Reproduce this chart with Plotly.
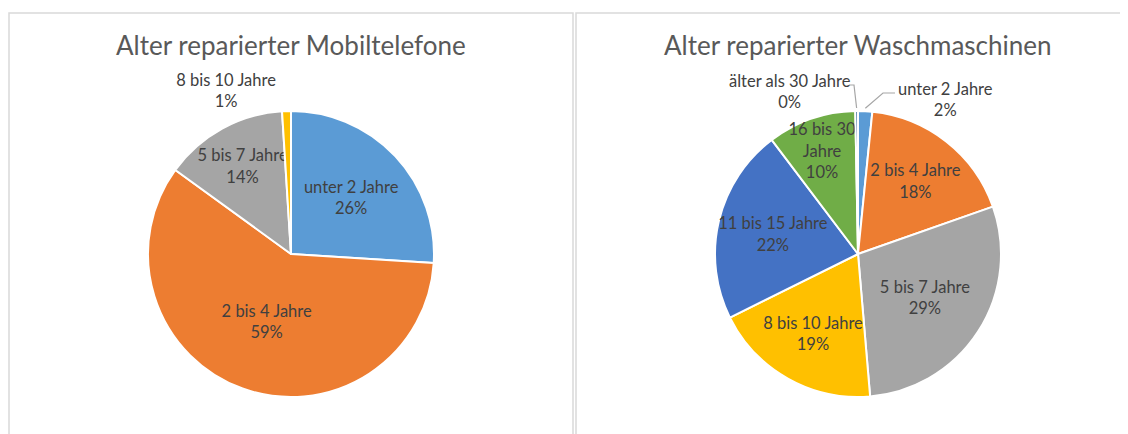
import math
import plotly.graph_objects as go

# Alter reparierter Mobiltelefone
phone_labels = ["unter 2 Jahre", "2 bis 4 Jahre", "5 bis 7 Jahre", "8 bis 10 Jahre"]
phone_values = [26, 59, 14, 1]
phone_text = ["unter 2 Jahre<br>26%", "2 bis 4 Jahre<br>59%", "5 bis 7 Jahre<br>14%", "8 bis 10 Jahre<br>1%"]

# Alter reparierter Waschmaschinen
wash_labels = ["unter 2 Jahre", "2 bis 4 Jahre", "5 bis 7 Jahre", "8 bis 10 Jahre",
               "11 bis 15 Jahre", "16 bis 30 Jahre", "älter als 30 Jahre"]
wash_values = [1.6, 18, 29, 19, 22, 10, 0.3]
wash_text = ["unter 2 Jahre<br>2%", "2 bis 4 Jahre<br>18%", "5 bis 7 Jahre<br>29%",
             "8 bis 10 Jahre<br>19%", "11 bis 15 Jahre<br>22%", "16 bis 30<br>Jahre<br>10%",
             "älter als 30 Jahre<br>0%"]

colors = ["#5B9BD5", "#ED7D31", "#A5A5A5", "#FFC000", "#4472C4", "#70AD47", "#255E91"]
font = "Lato, Calibri, sans-serif"
W, H = 1128, 434
OFF = 8  # page body margin of the html output
R = 143


def px(x):
    return (x - OFF) / W


def py(y):
    return 1 - (y - OFF) / H


def pie(labels, values, text, cx, outside, hidden=()):
    pos = []
    for l in labels:
        if l in hidden:
            pos.append("none")
        elif l in outside:
            pos.append("outside")
        else:
            pos.append("inside")
    return go.Pie(
        labels=labels,
        values=values,
        text=text,
        textinfo="text",
        textposition=pos,
        insidetextorientation="horizontal",
        textfont=dict(family=font, size=16.5, color="#404040"),
        marker=dict(colors=colors[:len(labels)], line=dict(color="white", width=2)),
        sort=False,
        direction="clockwise",
        rotation=0,
        domain=dict(x=[px(cx - R), px(cx + R)], y=[py(254 + R), py(254 - R)]),
        showlegend=False,
        hoverinfo="label+percent",
    )


def edge_point(values, i, cx, cy, r):
    # point on the rim at the middle of slice i (clockwise from 12 o'clock)
    total = sum(values)
    mid = (sum(values[:i]) + values[i] / 2) / total * 2 * math.pi
    return cx + r * math.sin(mid), cy - r * math.cos(mid)


fig = go.Figure()
fig.add_trace(pie(phone_labels, phone_values, phone_text, 291, ["8 bis 10 Jahre"]))
fig.add_trace(pie(wash_labels, wash_values, wash_text, 858, [],
                  hidden=["unter 2 Jahre", "älter als 30 Jahre"]))

# outside labels with leader lines for the tiny slices of the second chart
callouts = [
    (0, 945, 99, [(895, 93), (883, 93)]),
    (6, 790, 91, [(849, 85), (854, 85)]),
]
for i, tx, ty, elbow in callouts:
    ex, ey = edge_point(wash_values, i, 858, 254, R + 3)
    pts = elbow + [(ex, ey)]
    path = "M " + " L ".join(f"{px(x)},{py(y)}" for x, y in pts)
    fig.add_shape(type="path", xref="paper", yref="paper", path=path,
                  line=dict(color="#A6A6A6", width=1.2))
    fig.add_annotation(x=px(tx), y=py(ty), xref="paper", yref="paper", text=wash_text[i],
                       showarrow=False, xanchor="center", yanchor="middle",
                       font=dict(family=font, size=16.5, color="#404040"))

# chart frames
fig.add_shape(type="rect", xref="paper", yref="paper", x0=1 / W, x1=px(573), y0=-0.05, y1=py(13),
              line=dict(color="#D9D9D9", width=1.5))
fig.add_shape(type="rect", xref="paper", yref="paper", x0=px(576), x1=1.05, y0=-0.05, y1=py(13),
              line=dict(color="#D9D9D9", width=1.5))

for x, title in [(291, "Alter reparierter Mobiltelefone"), (858, "Alter reparierter Waschmaschinen")]:
    fig.add_annotation(x=px(x), y=py(45), xref="paper", yref="paper", text=title, showarrow=False,
                       xanchor="center", yanchor="middle",
                       font=dict(family=font, size=26, color="#595959"))

fig.update_layout(
    width=W,
    height=H,
    margin=dict(l=0, r=0, t=0, b=0),
    paper_bgcolor="white",
    plot_bgcolor="white",
    uniformtext=dict(minsize=16.5, mode="show"),
)

fig.write_html("out.html")
